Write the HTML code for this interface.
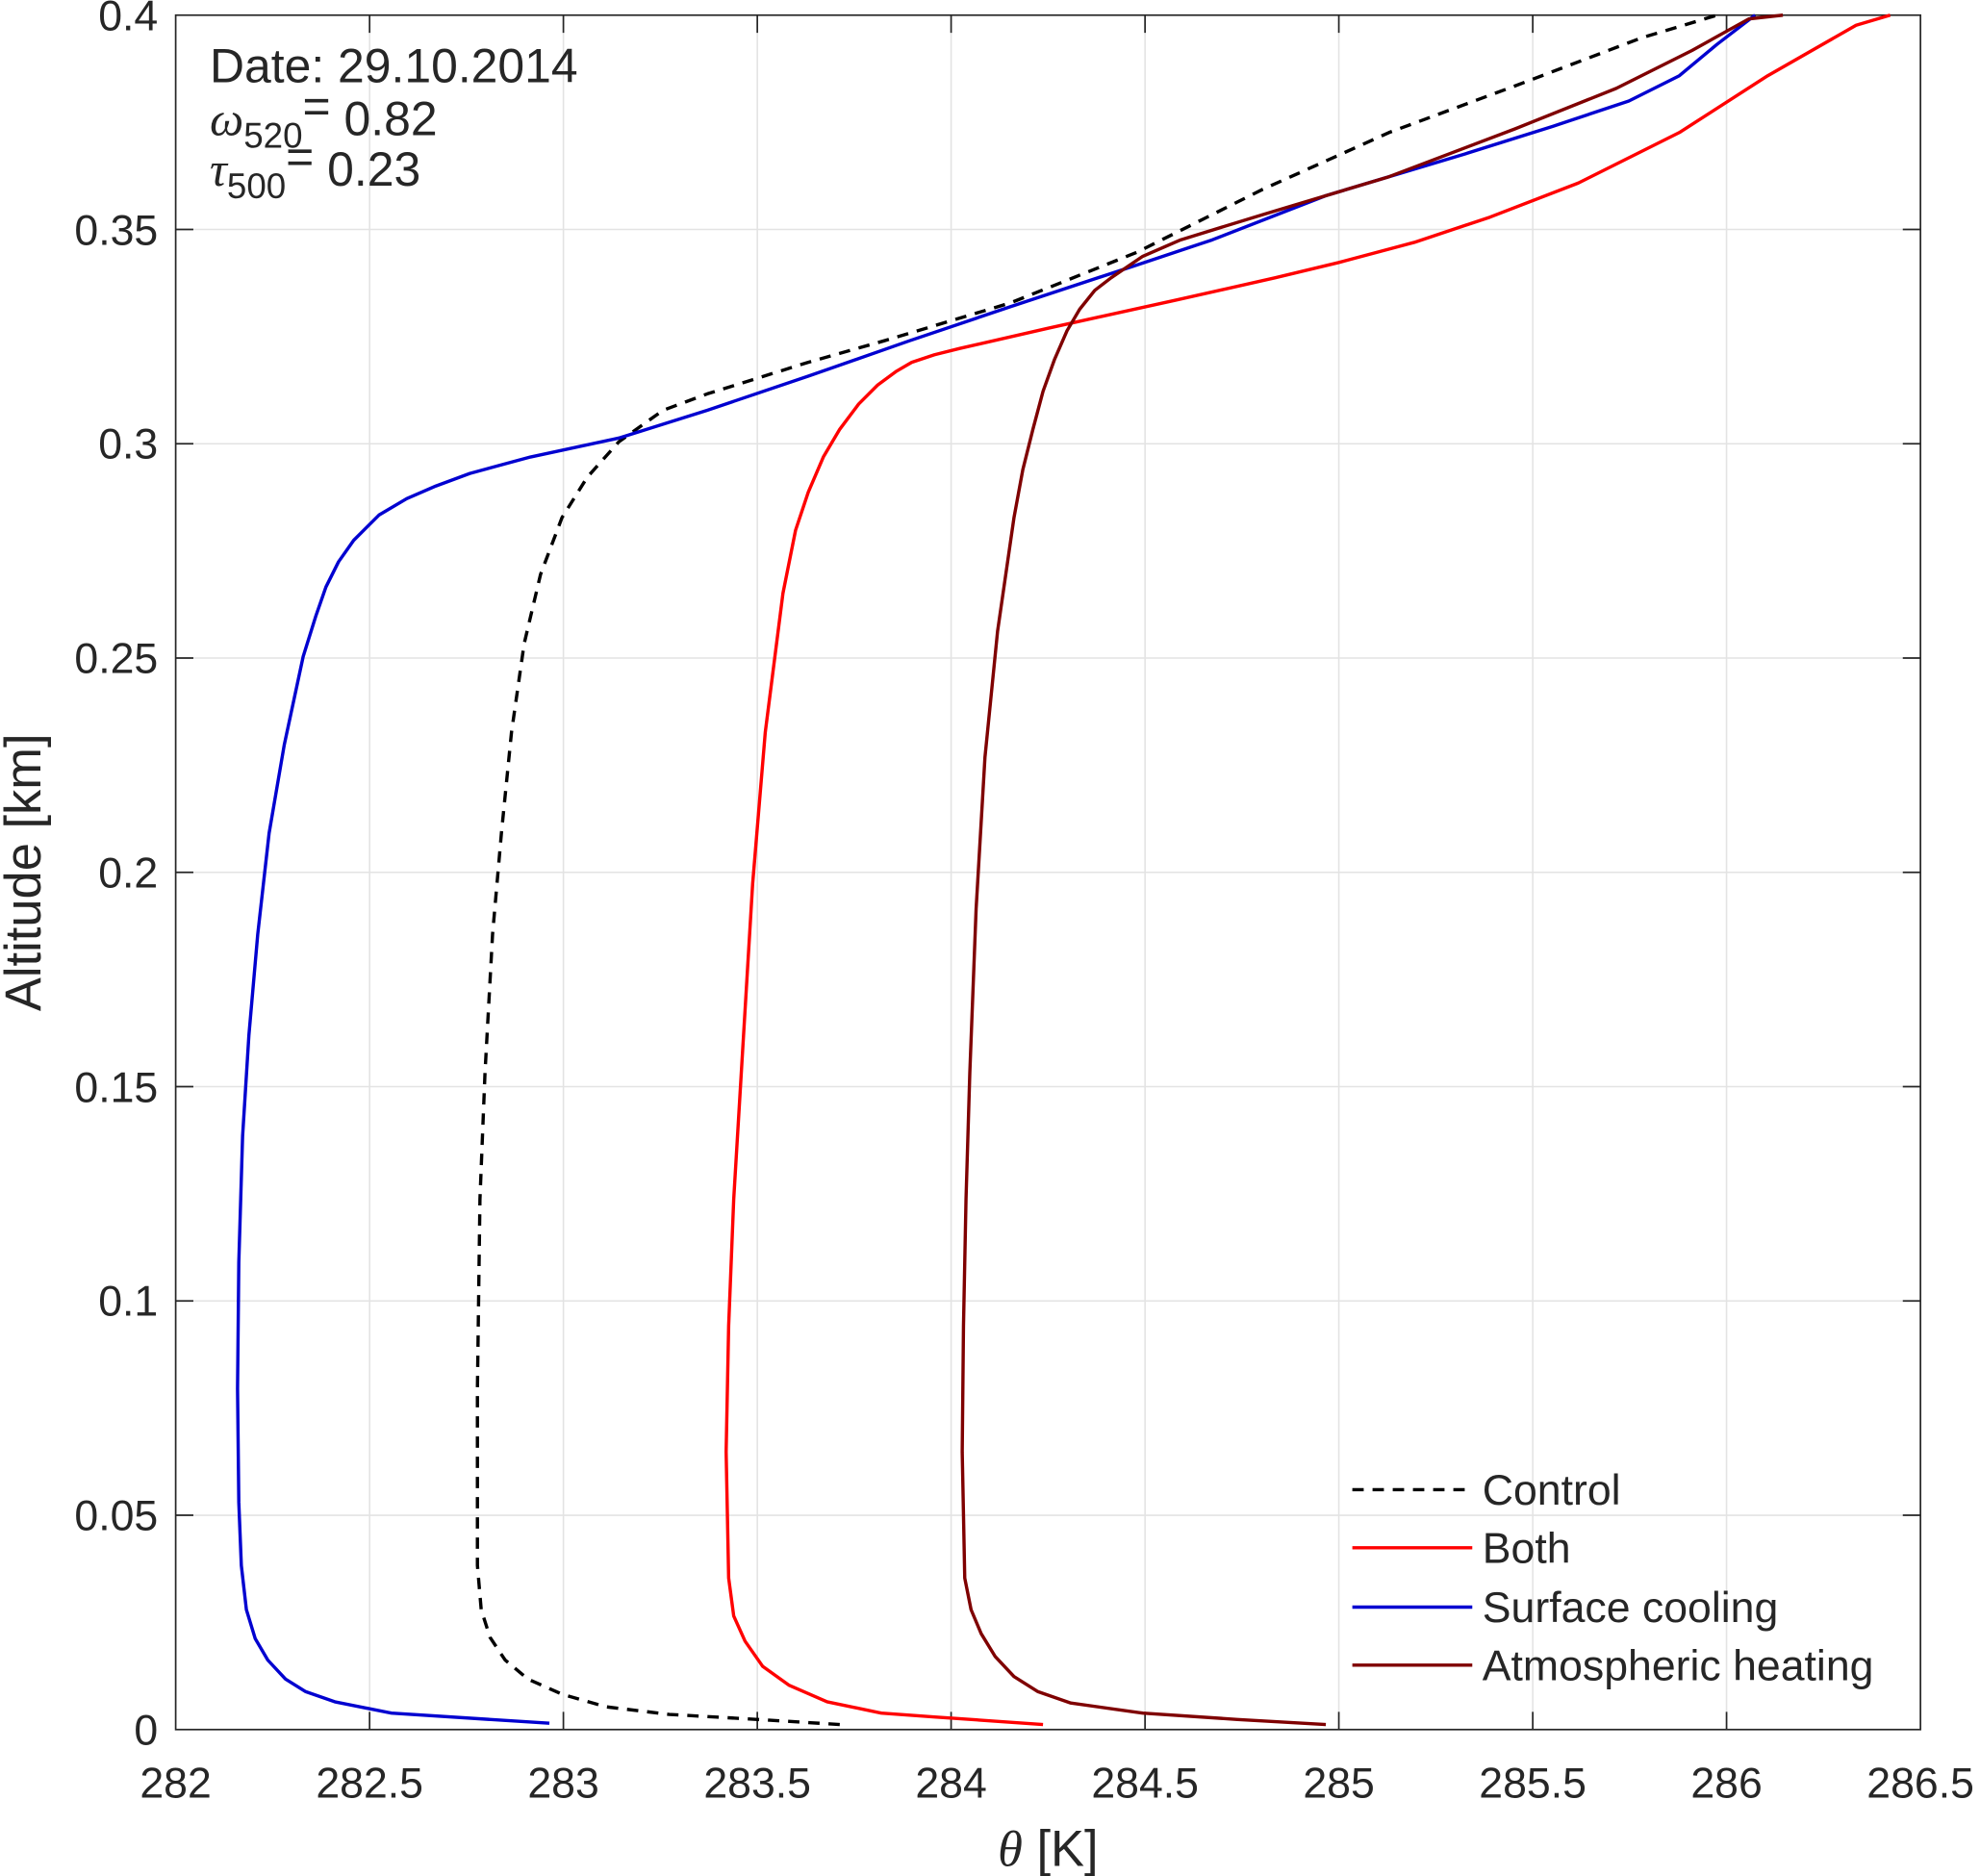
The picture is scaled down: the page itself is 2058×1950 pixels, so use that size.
<!DOCTYPE html>
<html><head><meta charset="utf-8"><style>
html,body{margin:0;padding:0;background:#fff;}
svg{display:block;}
text{font-family:"Liberation Sans",Arial,sans-serif;fill:#262626;}
</style></head><body>
<svg width="2058" height="1950" viewBox="0 0 1568 1486" xmlns="http://www.w3.org/2000/svg">
<rect x="0" y="0" width="1568" height="1486" fill="#fff"/>
<g stroke="#e3e3e3" stroke-width="1.2">
<line x1="292.6" y1="12" x2="292.6" y2="1370"/><line x1="446.1" y1="12" x2="446.1" y2="1370"/>
<line x1="599.7" y1="12" x2="599.7" y2="1370"/><line x1="753.2" y1="12" x2="753.2" y2="1370"/>
<line x1="906.8" y1="12" x2="906.8" y2="1370"/><line x1="1060.3" y1="12" x2="1060.3" y2="1370"/>
<line x1="1213.9" y1="12" x2="1213.9" y2="1370"/><line x1="1367.4" y1="12" x2="1367.4" y2="1370"/>
<line x1="139" y1="1200.25" x2="1521" y2="1200.25"/><line x1="139" y1="1030.5" x2="1521" y2="1030.5"/>
<line x1="139" y1="860.75" x2="1521" y2="860.75"/><line x1="139" y1="691" x2="1521" y2="691"/>
<line x1="139" y1="521.25" x2="1521" y2="521.25"/><line x1="139" y1="351.5" x2="1521" y2="351.5"/>
<line x1="139" y1="181.75" x2="1521" y2="181.75"/>
</g>
<g stroke="#262626" stroke-width="1.3">
<rect x="139" y="12" width="1382" height="1358" fill="none"/>
<path d="M292.6 1370v-14M446.1 1370v-14M599.7 1370v-14M753.2 1370v-14M906.8 1370v-14M1060.3 1370v-14M1213.9 1370v-14M1367.4 1370v-14
M292.6 12v14M446.1 12v14M599.7 12v14M753.2 12v14M906.8 12v14M1060.3 12v14M1213.9 12v14M1367.4 12v14
M139 1200.25h14M139 1030.5h14M139 860.75h14M139 691h14M139 521.25h14M139 351.5h14M139 181.75h14
M1521 1200.25h-14M1521 1030.5h-14M1521 860.75h-14M1521 691h-14M1521 521.25h-14M1521 351.5h-14M1521 181.75h-14"/>
</g>
<g font-size="34" text-anchor="middle">
<text x="139" y="1424">282</text><text x="292.6" y="1424">282.5</text><text x="446.1" y="1424">283</text>
<text x="599.7" y="1424">283.5</text><text x="753.2" y="1424">284</text><text x="906.8" y="1424">284.5</text>
<text x="1060.3" y="1424">285</text><text x="1213.9" y="1424">285.5</text><text x="1367.4" y="1424">286</text>
<text x="1521" y="1424">286.5</text>
</g>
<g font-size="34" text-anchor="end">
<text x="125" y="1382">0</text><text x="125" y="1212">0.05</text><text x="125" y="1042">0.1</text>
<text x="125" y="873">0.15</text><text x="125" y="703">0.2</text><text x="125" y="533">0.25</text>
<text x="125" y="363">0.3</text><text x="125" y="194">0.35</text><text x="125" y="24">0.4</text>
</g>
<text x="830" y="1478" font-size="40" text-anchor="middle"><tspan font-family="Liberation Serif" font-style="italic">θ</tspan> [K]</text>
<text transform="translate(32,691) rotate(-90)" font-size="40" text-anchor="middle">Altitude [km]</text>
<text x="166" y="65" font-size="38">Date: 29.10.2014</text>
<text x="166" y="107" font-size="38"><tspan font-family="Liberation Serif" font-style="italic">ω</tspan><tspan font-size="28" dy="10">520</tspan><tspan dy="-20">=</tspan><tspan dy="10"> 0.82</tspan></text>
<text x="166" y="147" font-size="38"><tspan font-family="Liberation Serif" font-style="italic">τ</tspan><tspan font-size="28" dy="10">500</tspan><tspan dy="-20">=</tspan><tspan dy="10"> 0.23</tspan></text>
<g fill="none" stroke-width="2.6" stroke-linejoin="round">
<polyline stroke="#000" stroke-dasharray="9,7" points="665,1366 600,1362 530,1358 480,1352 445,1342 418,1330 400,1315 388,1297 381,1275 378,1240 378,1100 380,950 384,850 390,740 397,660 405,580 415,510 428,455 445,410 465,378 490,350 525,325 560,312 640,287 700,270 800,240 900,200 1000,150 1100,105 1200,68 1300,30 1360,12"/>
<polyline stroke="#ff0000" points="826,1366 740,1360 698,1357 655,1348 625,1335 604,1320 590,1300 581,1280 577,1250 575,1150 577,1050 581,950 587,850 596,700 606,580 620,470 630,420 640,390 652,362 665,340 680,320 695,305 710,294 722,287 740,281 760,276 830,260 930,238 1010,220 1060,208 1120,192 1180,172 1250,145 1330,105 1400,60 1470,20 1497,12"/>
<polyline stroke="#0000d0" points="435,1365 310,1357 265,1348 242,1340 226,1330 212,1315 202,1298 195,1275 191,1240 189,1190 188,1100 189,1000 192,900 197,820 204,740 213,660 225,590 240,520 250,488 258,465 268,445 280,428 300,408 322,395 345,385 372,375 420,362 490,347 560,325 640,298 720,270 800,243 900,210 960,190 1050,155 1160,122 1230,100 1290,80 1330,60 1360,35 1390,12"/>
<polyline stroke="#7f0000" points="1050,1366 980,1362 905,1357 848,1349 822,1340 803,1328 788,1312 777,1294 769,1275 764,1250 762,1150 763,1050 765,950 768,850 773,720 780,600 790,500 803,410 810,372 818,340 826,310 835,285 845,262 855,245 867,230 880,220 905,203 935,190 1000,170 1100,140 1200,102 1280,70 1340,40 1385,15 1412,12"/>
</g>
<g stroke-width="2.6">
<line x1="1071" y1="1180" x2="1166" y2="1180" stroke="#000" stroke-dasharray="9,7"/>
<line x1="1071" y1="1226" x2="1166" y2="1226" stroke="#ff0000"/>
<line x1="1071" y1="1273" x2="1166" y2="1273" stroke="#0000d0"/>
<line x1="1071" y1="1319" x2="1166" y2="1319" stroke="#7f0000"/>
</g>
<g font-size="34">
<text x="1174" y="1192">Control</text><text x="1174" y="1238">Both</text>
<text x="1174" y="1285">Surface cooling</text><text x="1174" y="1331">Atmospheric heating</text>
</g>
</svg>
</body></html>
